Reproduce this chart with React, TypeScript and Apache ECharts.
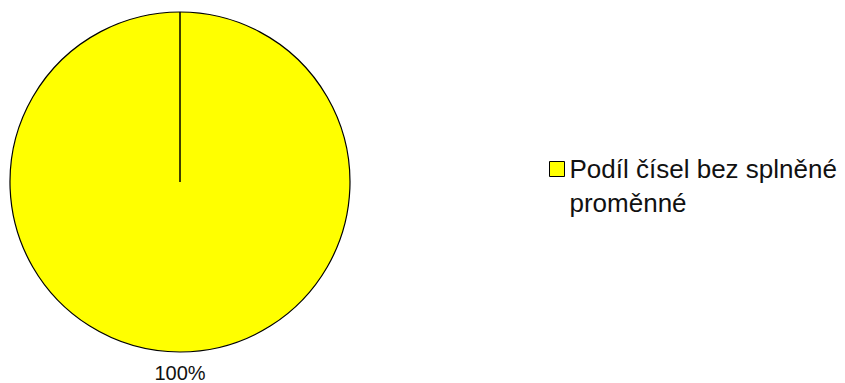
import React, { useEffect, useRef } from "react";
import * as echarts from "echarts";

const categories = ["Podíl čísel bez splněné proměnné"];
const values = [100];
const legendLines = ["Podíl čísel bez splněné", "proměnné"];

export default function App() {
  const ref = useRef<HTMLDivElement>(null);
  useEffect(() => {
    const chart = echarts.init(ref.current!, null, { renderer: "svg" });
    const cx = 180;
    const cy = 182;
    const r = 170;
    chart.setOption({
      animation: false,
      backgroundColor: "#ffffff",
      textStyle: { fontFamily: "Liberation Sans, Arial, sans-serif" },
      legend: {
        orient: "vertical",
        left: 544,
        top: 113,
        icon: "rect",
        itemWidth: 15,
        itemHeight: 15,
        itemGap: 10,
        itemStyle: { borderColor: "#000000", borderWidth: 1 },
        // leading empty line keeps the first text line level with the icon
        formatter: () => ["", ...legendLines].join("\n"),
        textStyle: {
          fontSize: 26,
          color: "#111111",
          lineHeight: 34,
        },
        data: categories,
      },
      series: [
        {
          type: "pie",
          center: [cx, cy],
          radius: [0, r],
          startAngle: 90,
          clockwise: true,
          itemStyle: { color: "#ffff00", borderColor: "#000000", borderWidth: 1.2 },
          emphasis: { disabled: true },
          label: {
            show: true,
            position: "outside",
            formatter: "{d}%",
            fontSize: 20,
            color: "#111111",
          },
          labelLine: { show: false },
          labelLayout: (params: any) => ({
            x: params.rect.x + params.rect.width / 2,
            y: params.rect.y + params.rect.height + 20,
            align: "center",
            verticalAlign: "middle",
          }),
          data: categories.map((name, i) => ({ name, value: values[i] })),
        },
      ],
      graphic: [
        {
          type: "line",
          z: 100,
          shape: { x1: cx, y1: cy, x2: cx, y2: cy - r },
          style: { stroke: "#000000", lineWidth: 1.5 },
        },
      ],
    });
    return () => chart.dispose();
  }, []);
  return (
    <div
      ref={ref}
      style={{ position: "fixed", left: 0, top: 0, width: 845, height: 383 }}
    />
  );
}
